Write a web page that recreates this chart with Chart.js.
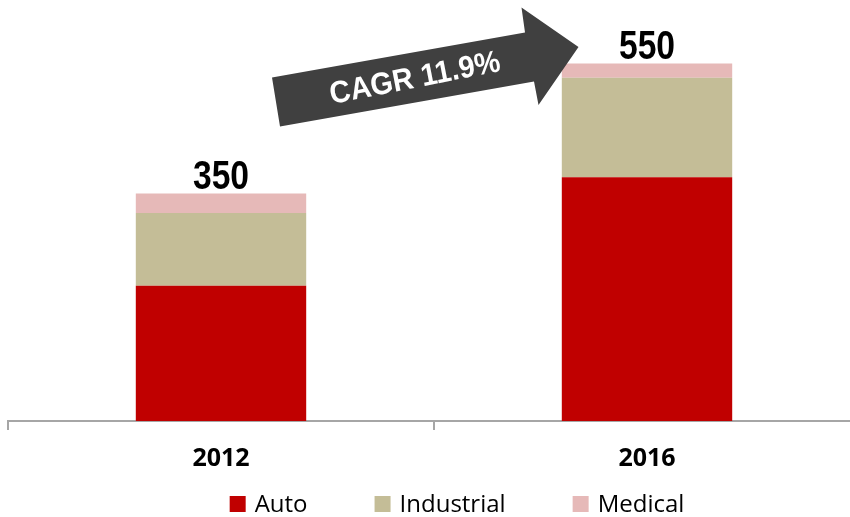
<!DOCTYPE html>
<html>
<head>
<meta charset="utf-8">
<script src="https://cdn.jsdelivr.net/npm/chart.js@4.4.1/dist/chart.umd.min.js"></script>
<style>
  html, body { margin: 0; padding: 0; background: #fff; overflow: hidden; }
  #wrap { width: 870px; height: 517px; }
</style>
</head>
<body>
<div id="wrap"><canvas id="c" width="870" height="517"></canvas></div>
<script>
// values (units of the original chart)
const years = ['2012', '2016'];
const autoVals = [208, 375];
const industrialVals = [112, 153];
const medicalVals = [30, 22];
const seriesNames = ['Auto', 'Industrial', 'Medical'];
const seriesColors = ['#C00000', '#C4BD97', '#E6B9B8'];
const cagrText = 'CAGR 11.9%';
const yMax = 640;

// totals above the stacks (narrow bold look: squeeze Liberation Sans horizontally)
const totalsPlugin = {
  id: 'totals',
  afterDatasetsDraw(chart) {
    const { ctx, scales: { x, y } } = chart;
    const squeeze = 0.82;
    years.forEach((yr, i) => {
      const total = chart.data.datasets.reduce((s, d) => s + d.data[i], 0);
      ctx.save();
      ctx.translate(x.getPixelForValue(i), y.getPixelForValue(total) - 5);
      ctx.scale(squeeze, 1);
      ctx.font = 'bold 41px "Liberation Sans", Arial, sans-serif';
      ctx.fillStyle = '#000';
      ctx.textAlign = 'center';
      ctx.textBaseline = 'alphabetic';
      ctx.fillText(String(total), 0, 0);
      ctx.restore();
    });
  }
};

// the dark CAGR block arrow
const arrowPlugin = {
  id: 'cagrArrow',
  afterDraw(chart) {
    const ctx = chart.ctx;
    const pts = [[272, 77.5], [525, 32.5], [521.5, 7.5], [578.5, 47], [538.5, 105], [534, 81.5], [280, 126.5]];
    ctx.save();
    ctx.beginPath();
    pts.forEach((p, i) => i ? ctx.lineTo(p[0], p[1]) : ctx.moveTo(p[0], p[1]));
    ctx.closePath();
    ctx.fillStyle = '#404040';
    ctx.fill();
    ctx.translate(415, 79);
    ctx.rotate(-11 * Math.PI / 180);
    ctx.scale(0.93, 1);
    ctx.font = 'bold 31px "Liberation Sans", Arial, sans-serif';
    ctx.fillStyle = '#fff';
    ctx.textAlign = 'center';
    ctx.textBaseline = 'middle';
    ctx.fillText(cagrText, 0, 0);
    ctx.restore();
  }
};

// legend row under the axis
const legendPlugin = {
  id: 'legendRow',
  afterDraw(chart) {
    const ctx = chart.ctx;
    const sets = chart.data.datasets;
    const box = 16, gap = 9, spacing = 67, yMid = 504;
    ctx.save();
    ctx.font = '24px "Open Sans", sans-serif';
    const widths = sets.map(d => box + gap + ctx.measureText(d.label).width);
    const total = widths.reduce((a, b) => a + b, 0) + spacing * (sets.length - 1);
    let x = 457 - total / 2;
    sets.forEach((d, i) => {
      ctx.fillStyle = d.backgroundColor;
      ctx.fillRect(x, yMid - box / 2, box, box);
      ctx.fillStyle = '#000';
      ctx.textAlign = 'left';
      ctx.textBaseline = 'middle';
      ctx.fillText(d.label, x + box + gap, yMid + 1);
      x += widths[i] + spacing;
    });
    ctx.restore();
  }
};

const seriesVals = [autoVals, industrialVals, medicalVals];

new Chart(document.getElementById('c'), {
  type: 'bar',
  data: {
    labels: years,
    datasets: seriesNames.map((name, i) => ({
      label: name,
      data: seriesVals[i],
      backgroundColor: seriesColors[i],
      borderWidth: 0,
      barPercentage: 0.4,
      categoryPercentage: 1
    }))
  },
  options: {
    responsive: false,
    animation: false,
    devicePixelRatio: 1,
    layout: { padding: { left: 8, right: 10, top: 5, bottom: 29 } },
    plugins: { legend: { display: false }, tooltip: { enabled: false } },
    scales: {
      x: {
        stacked: true,
        grid: { display: true, drawOnChartArea: false, color: '#A6A6A6', lineWidth: 2, tickLength: 9, offset: true },
        border: { display: true, color: '#A6A6A6', width: 2 },
        ticks: { color: '#000', padding: 14, font: { family: '"Open Sans", sans-serif', size: 25, weight: 'bold' } }
      },
      y: { stacked: true, display: false, min: 0, max: yMax }
    }
  },
  plugins: [totalsPlugin, arrowPlugin, legendPlugin]
});
</script>
</body>
</html>
